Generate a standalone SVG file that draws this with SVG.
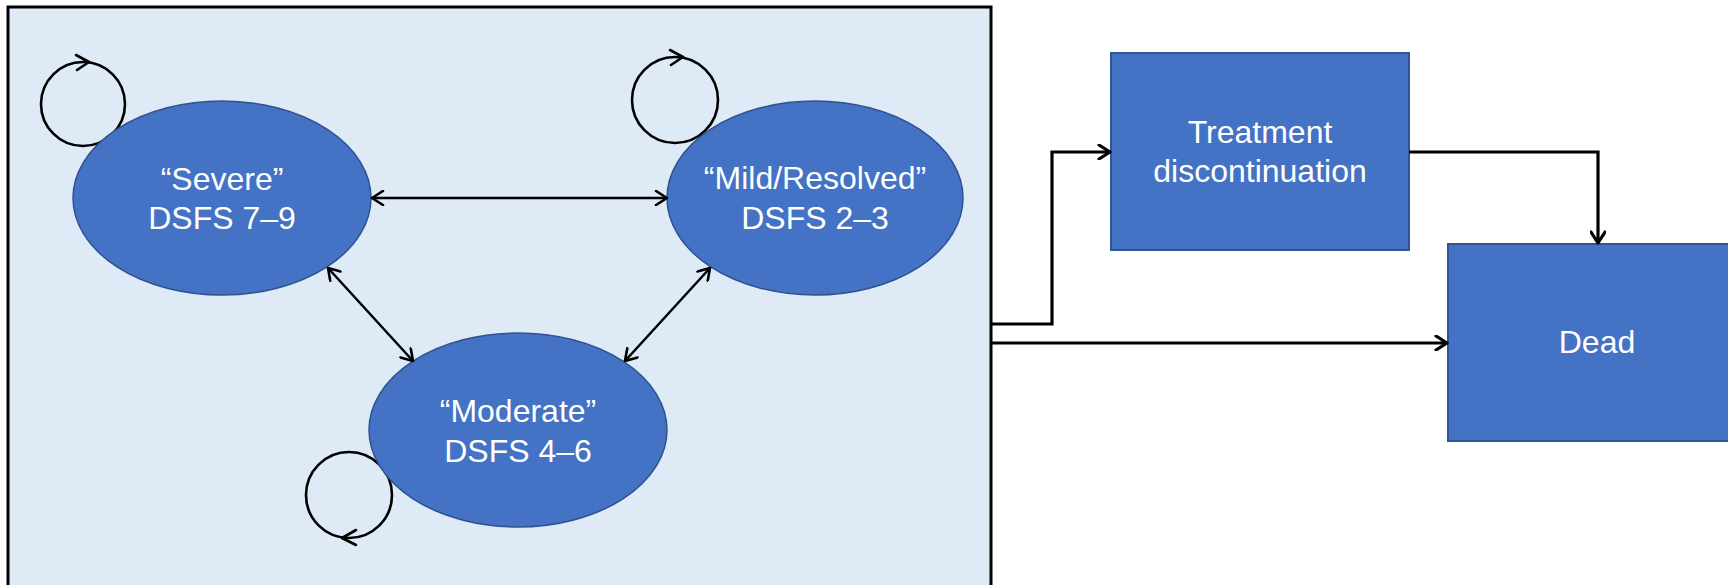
<svg xmlns="http://www.w3.org/2000/svg" width="1728" height="585" viewBox="0 0 1728 585">
<defs>
<style>
.state{fill:#4472C4;stroke:#2F528F;stroke-width:1.5}
.box{fill:#4472C4;stroke:#2F5597;stroke-width:2}
.lbl{font-family:"Liberation Sans",Arial,sans-serif;font-size:32px;fill:#FFFFFF;text-anchor:middle}
.conn{fill:none;stroke:#000;stroke-width:2.5}
.conn3{fill:none;stroke:#000;stroke-width:3.2}
.loop{fill:none;stroke:#000;stroke-width:2.6}
.head{fill:none;stroke:#000;stroke-width:2.6;stroke-linecap:round;stroke-linejoin:round}
</style>
<marker id="arr" viewBox="0 0 16 16" refX="14" refY="8" markerWidth="16" markerHeight="16" markerUnits="userSpaceOnUse" orient="auto-start-reverse">
<path d="M3,1 L14,8 L3,15" fill="none" stroke="#000" stroke-width="2.6" stroke-linecap="round" stroke-linejoin="round"/>
</marker>
<marker id="arrB" viewBox="0 0 16 16" refX="14" refY="8" markerWidth="16" markerHeight="16" markerUnits="userSpaceOnUse" orient="auto-start-reverse">
<path d="M3,1 L14,8 L3,15" fill="none" stroke="#000" stroke-width="3.2" stroke-linecap="round" stroke-linejoin="round"/>
</marker>
</defs>
<rect x="0" y="0" width="1728" height="585" fill="#FFFFFF"/>
<g id="container">
<rect x="8" y="7" width="983" height="600" fill="#DEEAF6" stroke="#000" stroke-width="3"/>
</g>
<g id="loops">
<circle cx="83" cy="104" r="42" class="loop"/>
<path d="M76,55 L89,62 L77,70" class="head"/>
<circle cx="675" cy="100" r="43" class="loop"/>
<path d="M670,50 L683,57 L671,65" class="head"/>
<circle cx="349" cy="495" r="43" class="loop"/>
<path d="M356,530 L342,538 L356,545" class="head"/>
</g>
<g id="severe">
<ellipse cx="222" cy="198" rx="149" ry="97" class="state"/>
<text x="222" y="190" class="lbl">“Severe”</text>
<text x="222" y="229" class="lbl">DSFS 7–9</text>
</g>
<g id="mild">
<ellipse cx="815" cy="198" rx="148" ry="97" class="state"/>
<text x="815" y="189" class="lbl">“Mild/Resolved”</text>
<text x="815" y="229" class="lbl">DSFS 2–3</text>
</g>
<g id="moderate">
<ellipse cx="518" cy="430" rx="149" ry="97" class="state"/>
<text x="518" y="422" class="lbl">“Moderate”</text>
<text x="518" y="462" class="lbl">DSFS 4–6</text>
</g>
<g id="treatment">
<rect x="1111" y="53" width="298" height="197" class="box"/>
<text x="1260" y="143" class="lbl">Treatment</text>
<text x="1260" y="182" class="lbl">discontinuation</text>
</g>
<g id="dead">
<rect x="1448" y="244" width="298" height="197" class="box"/>
<text x="1597" y="353" class="lbl">Dead</text>
</g>
<g id="connectors">
<line x1="372" y1="198" x2="667" y2="198" class="conn" marker-start="url(#arr)" marker-end="url(#arr)"/>
<line x1="328" y1="268" x2="413" y2="361" class="conn" marker-start="url(#arr)" marker-end="url(#arr)"/>
<line x1="710" y1="268" x2="625" y2="361" class="conn" marker-start="url(#arr)" marker-end="url(#arr)"/>
<path d="M992,324 L1052,324 L1052,152 L1110,152" class="conn3" marker-end="url(#arrB)"/>
<path d="M992,343 L1447,343" class="conn3" marker-end="url(#arrB)"/>
<path d="M1409,152 L1598,152 L1598,243" class="conn3" marker-end="url(#arrB)"/>
</g>
</svg>
